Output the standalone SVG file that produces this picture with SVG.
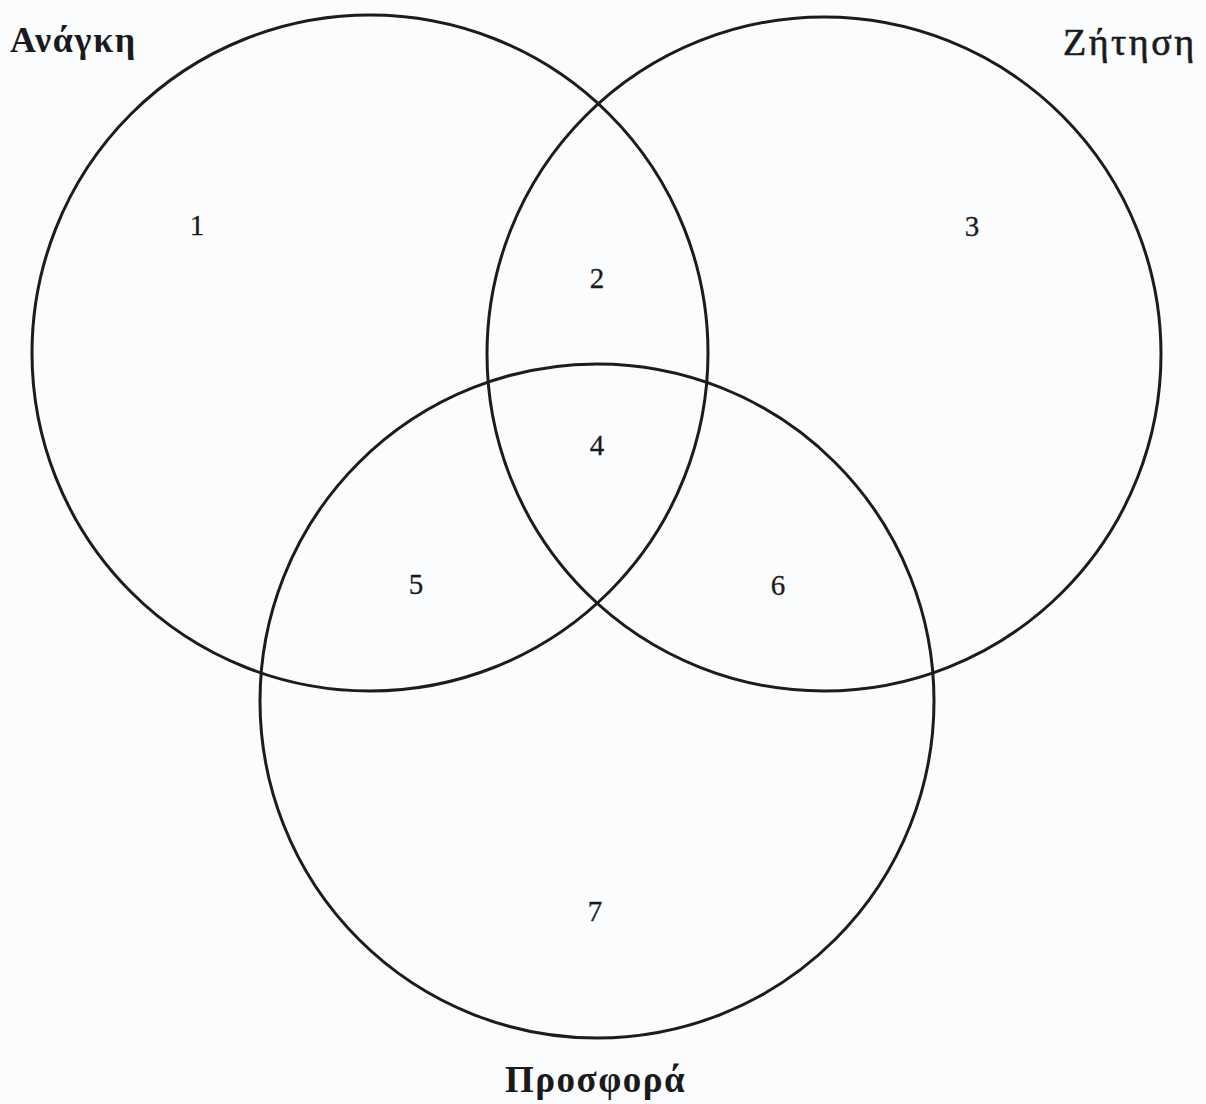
<svg xmlns="http://www.w3.org/2000/svg" width="1206" height="1104" viewBox="0 0 1206 1104">
<style>
.c{fill:none;stroke:#1c1c1e;stroke-width:3}
.t{font-family:"Liberation Serif","Times New Roman",serif;fill:#1a1a1c}
.n{font-size:29px;text-anchor:middle;stroke:#1a1a1c;stroke-width:0.3}
</style>
<rect width="1206" height="1104" fill="#fbfcfd"/>
<g id="anagki">
<circle class="c" cx="370" cy="353" r="338"/>
<text class="t" x="10" y="52" font-size="36" font-weight="bold" letter-spacing="1.7">Ανάγκη</text>
</g>
<g id="zitisi">
<circle class="c" cx="824" cy="354" r="337"/>
<text class="t" x="1063" y="55" font-size="38" letter-spacing="2.5" stroke="#1a1a1c" stroke-width="0.6">Ζήτηση</text>
</g>
<g id="prosfora">
<circle class="c" cx="597" cy="701" r="337"/>
<text class="t" x="505" y="1092" font-size="37" font-weight="bold" letter-spacing="1.5">Προσφορά</text>
</g>
<g id="regions">
<text class="t n" x="197" y="235">1</text>
<text class="t n" x="597" y="288">2</text>
<text class="t n" x="972" y="236">3</text>
<text class="t n" x="597" y="455">4</text>
<text class="t n" x="416" y="594">5</text>
<text class="t n" x="778" y="595">6</text>
<text class="t n" x="595" y="921">7</text>
</g>
<g id="connectors"></g>
</svg>
